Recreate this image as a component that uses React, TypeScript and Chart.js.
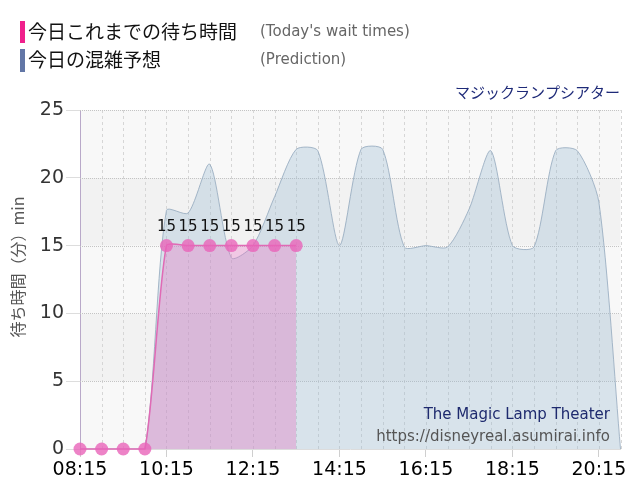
import { useEffect, useRef } from "react";
import { Chart, registerables } from "chart.js";

Chart.register(...registerables);

const timeLabels = [
  "08:15", "08:45", "09:15", "09:45", "10:15", "10:45", "11:15", "11:45",
  "12:15", "12:45", "13:15", "13:45", "14:15", "14:45", "15:15", "15:45",
  "16:15", "16:45", "17:15", "17:45", "18:15", "18:45", "19:15", "19:45",
  "20:15", "20:45",
];
const tickLabels = ["08:15", "10:15", "12:15", "14:15", "16:15", "18:15", "20:15"];

// today's actual wait (min)
const actualWait: (number | null)[] = [
  0, 0, 0, 0, 15, 15, 15, 15, 15, 15, 15,
  null, null, null, null, null, null, null, null, null, null, null, null, null, null, null,
];

// prediction (min)
const predictedWait = [
  0, 0, 0, 0, 17.6, 17.4, 21.0, 14.1, 15.0, 18.6, 22.1, 22.0, 15.0,
  22.1, 22.1, 14.9, 15.0, 14.9, 17.7, 22.0, 15.0, 14.9, 22.0, 22.0, 18.2, 0,
];

const yTicks = [0, 5, 10, 15, 20, 25];

const NUM = "'DejaVu Sans', Verdana, sans-serif";
const JP = "'Noto Sans CJK JP', 'Noto Sans', sans-serif";

const decor = {
  id: "decor",
  beforeDraw(chart: Chart) {
    const { ctx, chartArea: a } = chart;
    const y = chart.scales.y;
    ctx.save();
    ctx.fillStyle = "#fff";
    ctx.fillRect(0, 0, chart.width, chart.height);
    for (let k = 0; k < yTicks.length - 1; k++) {
      const top = y.getPixelForValue(yTicks[k + 1]);
      const bot = y.getPixelForValue(yTicks[k]);
      ctx.fillStyle = k % 2 === 0 ? "#f8f8f8" : "#f2f2f2";
      ctx.fillRect(a.left, top, a.right - a.left, bot - top);
    }
    ctx.restore();
  },
  beforeDatasetsDraw(chart: Chart) {
    const { ctx, chartArea: a } = chart;
    const x = chart.scales.x;
    const y = chart.scales.y;
    ctx.save();
    ctx.lineWidth = 1;
    ctx.strokeStyle = "#d6d6d6";
    ctx.setLineDash([3, 3]);
    timeLabels.forEach((_, i) => {
      if (i === 0) return;
      const px = Math.round(x.getPixelForValue(i)) + 0.5;
      ctx.beginPath();
      ctx.moveTo(px, a.top);
      ctx.lineTo(px, a.bottom);
      ctx.stroke();
    });
    ctx.strokeStyle = "#c4c4c4";
    ctx.setLineDash([1, 1]);
    yTicks.forEach((v) => {
      if (v === 0) return;
      const py = Math.round(y.getPixelForValue(v)) + 0.5;
      ctx.beginPath();
      ctx.moveTo(a.left, py);
      ctx.lineTo(a.right, py);
      ctx.stroke();
    });
    ctx.restore();
  },
  afterDatasetsDraw(chart: Chart) {
    const { ctx } = chart;
    ctx.save();
    // value labels over actual points
    const meta = chart.getDatasetMeta(0);
    ctx.font = `15px ${NUM}`;
    ctx.fillStyle = "#111";
    ctx.textAlign = "center";
    ctx.textBaseline = "middle";
    meta.data.forEach((pt, i) => {
      const v = actualWait[i];
      if (v == null || v === 0) return;
      ctx.fillText(String(v), pt.x, pt.y - 18);
    });

    // legend
    ctx.textAlign = "left";
    ctx.fillStyle = "#f0208c";
    ctx.fillRect(20, 21, 5, 22);
    ctx.fillStyle = "#6276a6";
    ctx.fillRect(20, 49, 5, 23);
    ctx.font = `19px ${JP}`;
    ctx.fillStyle = "#111";
    ctx.fillText("今日これまでの待ち時間", 28, 32);
    ctx.fillText("今日の混雑予想", 28, 60);
    ctx.font = `15px ${NUM}`;
    ctx.fillStyle = "#666";
    ctx.fillText("(Today's wait times)", 260, 32);
    ctx.fillText("(Prediction)", 260, 60);

    // title
    ctx.textAlign = "right";
    ctx.font = `15px ${JP}`;
    ctx.fillStyle = "#1e2a78";
    ctx.fillText("マジックランプシアター", 620, 92);

    // watermark
    ctx.font = `15px ${NUM}`;
    ctx.fillStyle = "#1e2a6e";
    ctx.fillText("The Magic Lamp Theater", 610, 415);
    ctx.fillStyle = "#555";
    ctx.fillText("https://disneyreal.asumirai.info", 610, 437);

    // y axis title
    ctx.translate(18, 267);
    ctx.rotate(-Math.PI / 2);
    ctx.textAlign = "center";
    ctx.font = `16px ${JP}`;
    ctx.fillStyle = "#555";
    ctx.fillText("待ち時間（分）min", 0, 0);
    ctx.restore();
  },
};

export default function App() {
  const canvasRef = useRef<HTMLCanvasElement>(null);
  const chartRef = useRef<Chart | null>(null);

  useEffect(() => {
    if (!canvasRef.current) return;
    chartRef.current?.destroy();
    chartRef.current = new Chart(canvasRef.current.getContext("2d")!, {
      type: "line",
      data: {
        labels: timeLabels,
        datasets: [
          {
            label: "今日これまでの待ち時間",
            data: actualWait,
            borderColor: "#e06ab5",
            borderWidth: 1.5,
            backgroundColor: "rgba(227,120,195,0.38)",
            fill: "origin",
            tension: 0.2,
            pointRadius: 6.5,
            pointHoverRadius: 6.5,
            pointBackgroundColor: "rgba(232,100,185,0.8)",
            pointBorderWidth: 0,
            clip: false,
            order: 1,
          },
          {
            label: "今日の混雑予想",
            data: predictedWait,
            borderColor: "rgba(150,172,192,0.85)",
            borderWidth: 1,
            backgroundColor: "rgba(150,182,208,0.32)",
            fill: "origin",
            tension: 0.25,
            pointRadius: 0,
            order: 2,
          },
        ],
      },
      options: {
        responsive: false,
        animation: false,
        layout: { padding: { top: 110, right: 19.5, left: 0, bottom: 0 } },
        plugins: {
          legend: { display: false },
          tooltip: { enabled: false },
        },
        scales: {
          x: {
            type: "category",
            offset: false,
            afterFit: (s: any) => {
              s.height = 51;
            },
            grid: {
              drawOnChartArea: false,
              tickLength: 8,
              color: (c: any) =>
                tickLabels.includes(timeLabels[c.index]) ? "#cfcfcf" : "rgba(0,0,0,0)",
            },
            border: { color: "#dcdcdc" },
            ticks: {
              autoSkip: false,
              maxRotation: 0,
              minRotation: 0,
              padding: 2,
              color: "#000",
              font: { family: NUM, size: 19 },
              callback: (_v: any, i: number) =>
                tickLabels.includes(timeLabels[i]) ? timeLabels[i] : "",
            },
          },
          y: {
            min: 0,
            max: 25,
            afterFit: (s: any) => {
              s.width = 80;
            },
            grid: { drawOnChartArea: false, tickLength: 14, color: "#dddddd" },
            border: { color: "#b9a9c9" },
            ticks: {
              stepSize: 5,
              padding: 2,
              color: "#333",
              font: { family: NUM, size: 19 },
            },
          },
        },
      },
      plugins: [decor],
    });
    return () => {
      chartRef.current?.destroy();
      chartRef.current = null;
    };
  }, []);

  return (
    <div style={{ position: "absolute", left: 0, top: 0, width: 640, height: 500 }}>
      <canvas ref={canvasRef} width={640} height={500} style={{ display: "block" }} />
    </div>
  );
}
